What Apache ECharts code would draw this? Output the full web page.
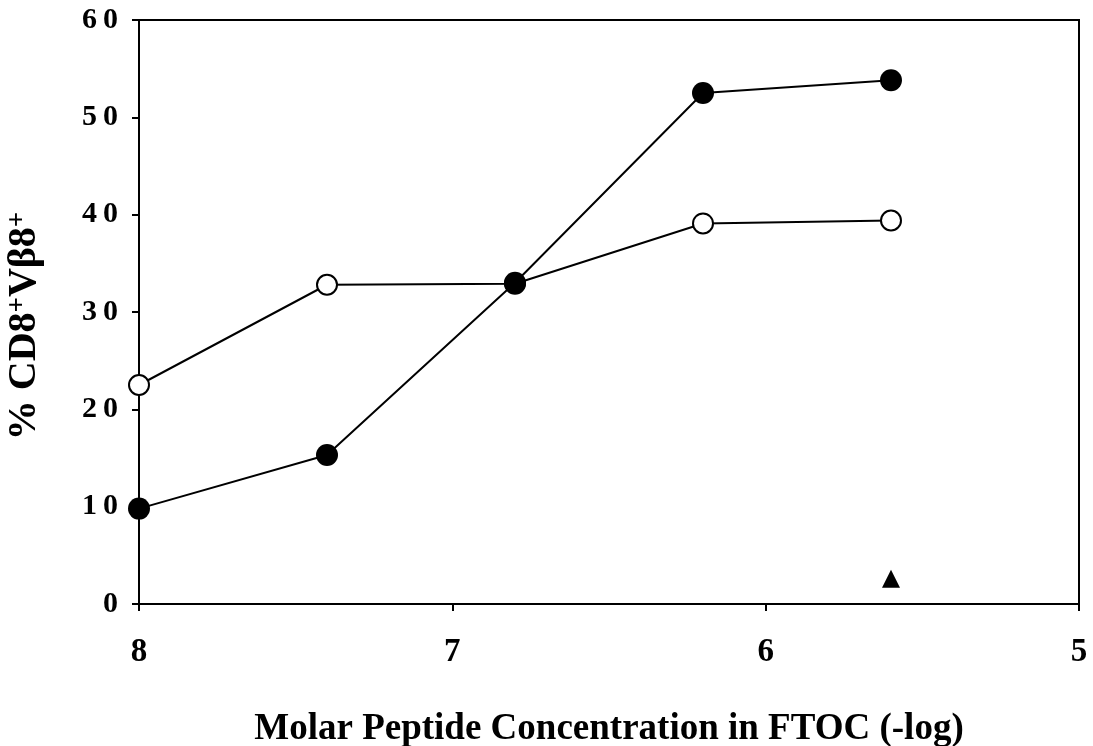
<!DOCTYPE html>
<html>
<head>
<meta charset="utf-8">
<title>% CD8+Vβ8+ vs peptide concentration</title>
<script src="https://cdn.jsdelivr.net/npm/echarts@6/dist/echarts.min.js"></script>
<style>
  html, body { margin: 0; padding: 0; background: #fff; }
  #chart { width: 1093px; height: 746px; }
</style>
</head>
<body>
<div id="chart"></div>
<script>
// peptide concentration (-log M)
const concentrations = [8, 7.4, 6.8, 6.2, 5.6]
// filled circles
const filledValues = [9.8, 15.3, 33.0, 52.5, 53.8]
// open circles
const openValues = [22.5, 32.8, 32.9, 39.1, 39.4]
// single triangle point
const triangleX = [5.6]
const triangleValues = [2.6]

const yTicks = [0, 10, 20, 30, 40, 50, 60]
const xTicks = [5, 6, 7, 8]

const font = '"Liberation Serif", "Times New Roman", serif'

function pairs(xs, ys) {
  return xs.map((x, i) => [x, ys[i]])
}

// spread digits a bit, the original labels are wide
function spaced(v) {
  return String(v).split('').join('\u2009')
}

const chart = echarts.init(document.getElementById('chart'))

chart.setOption({
  animation: false,
  backgroundColor: '#fff',
  grid: {
    left: 139,
    right: 14,
    top: 20,
    bottom: 142,
    outerBoundsMode: 'none',
    show: true,
    borderColor: '#000',
    borderWidth: 2
  },
  // y axis title, drawn by hand so the superscripts sit right
  graphic: [{
    type: 'text',
    x: 25,
    y: 326,
    rotation: Math.PI / 2,
    style: {
      text: '{a|% CD8}{s|+}{a|Vβ8}{s|+}',
      align: 'center',
      verticalAlign: 'middle',
      rich: {
        a: { fontFamily: font, fontWeight: 'bold', fontSize: 40, fill: '#000' },
        s: { fontFamily: font, fontWeight: 'bold', fontSize: 27, fill: '#000', verticalAlign: 'top', lineHeight: 22 }
      }
    }
  }],
  xAxis: {
    type: 'value',
    min: xTicks[0],
    max: xTicks[xTicks.length - 1],
    interval: 1,
    inverse: true,
    name: 'Molar Peptide Concentration in FTOC (-log)',
    nameLocation: 'middle',
    nameGap: 107,
    nameTextStyle: {
      fontFamily: font,
      fontWeight: 'bold',
      fontSize: 37,
      color: '#000'
    },
    axisLine: { show: true, lineStyle: { color: '#000', width: 2 } },
    axisTick: { show: true, length: 7, lineStyle: { color: '#000', width: 2 } },
    axisLabel: {
      margin: 32,
      fontFamily: font,
      fontWeight: 'bold',
      fontSize: 33,
      color: '#000'
    },
    splitLine: { show: false }
  },
  yAxis: {
    type: 'value',
    min: yTicks[0],
    max: yTicks[yTicks.length - 1],
    interval: 10,
    axisLine: { show: true, lineStyle: { color: '#000', width: 2 } },
    axisTick: { show: true, length: 7, lineStyle: { color: '#000', width: 2 } },
    axisLabel: {
      margin: 21,
      fontFamily: font,
      fontWeight: 'bold',
      fontSize: 30,
      color: '#000',
      formatter: v => spaced(v)
    },
    splitLine: { show: false }
  },
  series: [
    {
      name: 'open',
      type: 'line',
      data: pairs(concentrations, openValues),
      symbol: 'circle',
      symbolSize: 20,
      lineStyle: { color: '#000', width: 2 },
      itemStyle: { color: '#fff', borderColor: '#000', borderWidth: 2 },
      z: 2
    },
    {
      name: 'filled',
      type: 'line',
      data: pairs(concentrations, filledValues),
      symbol: 'circle',
      symbolSize: 22,
      lineStyle: { color: '#000', width: 2 },
      itemStyle: { color: '#000', borderColor: '#000', borderWidth: 0 },
      z: 3
    },
    {
      name: 'triangle',
      type: 'scatter',
      data: pairs(triangleX, triangleValues),
      symbol: 'triangle',
      symbolSize: 18,
      itemStyle: { color: '#000', opacity: 1 },
      z: 3
    }
  ]
})
</script>
</body>
</html>
